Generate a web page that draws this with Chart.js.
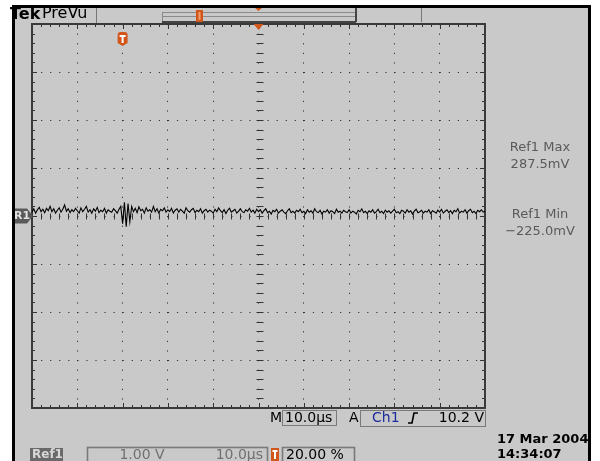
<!DOCTYPE html>
<html>
<head>
<meta charset="utf-8">
<script src="https://cdn.jsdelivr.net/npm/chart.js@4.4.0/dist/chart.umd.min.js"></script>
<style>
html, body { margin: 0; padding: 0; background: #fff; }
#wrap { width: 600px; height: 461px; }
</style>
</head>
<body>
<div id="wrap"><canvas id="scope" width="600" height="461"></canvas></div>
<script>
// Ref1 trace, mV, one sample every 0.4 us across 10 divisions of 10 us
var sampleStep = 0.4;
var ref1 = [
  80, 150, 60, 130, 180, 90, 140, 70, 160, 110, 200, 90, 150, 60, 120, 170, 80, 140, 230, 100, 150, 70, 130, 90, 160,
  110, 60, 170, 90, 140, 200, 80, 130, 60, 150, 100, 180, 70, 120, 90, 160, 60, 130, 100, 80, 150, 110, 60, 140, 200,
  -160, 287.5, -225, 260, -120, 200, 90, 160, 70, 190, 110, 140, 60, 170, 100, 130, 80, 200, 90, 150, 60, 140, 110, 170, 80,
  130, 90, 160, 60, 120, 150, 80, 140, 100, 60, 170, 110, 80, 130, 160, 70, 120, 90, 150, 60, 110, 140, 80, 120, 100,
  60, 140, 90, 170, 110, 70, 130, 50, 120, 160, 80, 110, 140, 60, 100, 150, 90, 70, 130, 100, 160, 80, 120, 60, 140,
  90, 130, 60, 110, 150, 70, 100, 40, 120, 90, 140, 60, 100, 130, 80, 50, 110, 150, 70, 100, 60, 120, 90, 140, 70,
  100, 50, 130, 80, 110, 60, 150, 90, 70, 120, 40, 100, 80, 130, 60, 110, 90, 50, 140, 80, 100, 60, 120, 90, 70,
  130, 60, 100, 80, 40, 120, 90, 150, 70, 100, 50, 110, 80, 130, 60, 90, 140, 70, 100, 50, 120, 80, 110, 60, 100,
  140, 70, 90, 50, 120, 100, 60, 130, 80, 110, 40, 100, 140, 70, 90, 120, 60, 100, 80, 130, 50, 110, 90, 60, 120,
  80, 140, 60, 100, 130, 70, 110, 50, 120, 90, 150, 60, 100, 80, 130, 60, 110, 140, 70, 100, 50, 120, 90, 130, 80, 100
];
var timeRange = [0, 100];      // us, 10 div x 10.0us
var voltRange = [-4000, 4000]; // mV, 8 div x 1.00 V
var triggerTime = 20;          // 20.00 %
var refMax = '287.5mV';
var refMin = '\u2212225.0mV';

var GRAY = '#c9c9c9';
var ORANGE = '#d2561a';
var FONT = '"DejaVu Sans", sans-serif';

var points = [];
for (var i = 0; i < ref1.length; i++) {
  points.push({ x: i * sampleStep, y: ref1[i] });
}

function tBadge(c, x, y, w, h) {
  c.fillStyle = ORANGE;
  c.beginPath();
  c.moveTo(x, y + 3);
  c.quadraticCurveTo(x, y, x + 3, y);
  c.lineTo(x + w - 3, y);
  c.quadraticCurveTo(x + w, y, x + w, y + 3);
  c.lineTo(x + w, y + h - 3);
  c.lineTo(x + w / 2, y + h);
  c.lineTo(x, y + h - 3);
  c.closePath();
  c.fill();
  c.fillStyle = '#fff';
  c.fillRect(x + 2, y + 3, w - 4, 2);
  c.fillRect(x + w / 2 - 1, y + 3, 2, h - 6);
}

function txt(c, s, x, y, color, font, align) {
  c.fillStyle = color;
  c.font = font;
  c.textAlign = align || 'left';
  c.textBaseline = 'middle';
  c.fillText(s, x, y);
}

function bezel(c) {
  c.fillStyle = '#000';
  c.fillRect(12, 5, 3, 456);
  c.fillRect(12, 5, 579, 3);
  c.fillRect(588, 5, 3, 456);
  c.fillStyle = '#fff';
  c.fillRect(591, 0, 9, 461);
}

var scopeFrame = {
  id: 'scopeFrame',
  beforeDraw: function(chart) {
    var c = chart.ctx;
    c.save();
    c.fillStyle = '#fff';
    c.fillRect(0, 0, 600, 461);
    c.fillStyle = GRAY;
    c.fillRect(15, 8, 574, 453);
    // top bar
    c.strokeStyle = '#777';
    c.lineWidth = 1;
    c.beginPath();
    c.moveTo(96.5, 8); c.lineTo(96.5, 23);
    c.moveTo(421.5, 8); c.lineTo(421.5, 22);
    c.stroke();
    c.strokeStyle = '#8a8a8a';
    c.strokeRect(162.5, 12.5, 193, 9);
    c.beginPath();
    c.moveTo(163, 16.5); c.lineTo(355, 16.5);
    c.stroke();
    c.strokeStyle = '#444';
    c.lineWidth = 2;
    c.beginPath();
    c.moveTo(356, 8); c.lineTo(356, 22);
    c.moveTo(162, 22); c.lineTo(356, 22);
    c.stroke();
    c.fillStyle = ORANGE;
    c.fillRect(196, 10, 7, 12);
    c.fillStyle = '#f0a070';
    c.fillRect(198.5, 12, 2, 8);
    c.fillStyle = ORANGE;
    c.beginPath();
    c.moveTo(254, 7); c.lineTo(263, 7); c.lineTo(258.5, 11); c.closePath();
    c.fill();
    bezel(c);
    c.restore();
  },
  beforeDatasetsDraw: function(chart) {
    var c = chart.ctx, a = chart.chartArea, xs = chart.scales.x, ys = chart.scales.y;
    c.save();
    c.strokeStyle = '#333';
    c.lineWidth = 1;
    c.beginPath();
    var cy = Math.round(ys.getPixelForValue(0)) + 0.5;
    var cx = Math.round(xs.getPixelForValue(50)) + 0.5;
    for (var t = timeRange[0]; t <= timeRange[1]; t += 2) {
      var px = Math.round(xs.getPixelForValue(t)) + 0.5;
      var len = t % 10 === 0 ? 5 : 3;
      c.moveTo(px, a.top); c.lineTo(px, a.top + len);
      c.moveTo(px, a.bottom); c.lineTo(px, a.bottom - len);
      c.moveTo(px, cy - 3); c.lineTo(px, cy + 3);
    }
    for (var v = voltRange[0]; v <= voltRange[1]; v += 200) {
      var py = Math.round(ys.getPixelForValue(v)) + 0.5;
      var ln = v % 1000 === 0 ? 5 : 3;
      c.moveTo(a.left, py); c.lineTo(a.left + ln, py);
      c.moveTo(a.right, py); c.lineTo(a.right - ln, py);
      c.moveTo(cx - 3, py); c.lineTo(cx + 4, py);
    }
    c.stroke();
    c.strokeStyle = '#3a3a3a';
    c.lineWidth = 2;
    c.strokeRect(a.left, a.top, a.right - a.left, a.bottom - a.top);
    c.restore();
  },
  afterDraw: function(chart) {
    var c = chart.ctx, a = chart.chartArea, xs = chart.scales.x, ys = chart.scales.y;
    c.save();
    // trigger markers
    var tx = xs.getPixelForValue(triggerTime);
    tBadge(c, tx - 5, 32, 10, 14);
    var cx = xs.getPixelForValue(50);
    c.fillStyle = ORANGE;
    c.beginPath();
    c.moveTo(cx - 5, a.top); c.lineTo(cx + 5, a.top); c.lineTo(cx, a.top + 6); c.closePath();
    c.fill();
    // R1 ground marker
    var gy = ys.getPixelForValue(0);
    c.fillStyle = '#5a5a5a';
    c.beginPath();
    c.moveTo(13, gy - 7.5); c.lineTo(27, gy - 7.5); c.lineTo(33, gy); c.lineTo(27, gy + 7.5); c.lineTo(13, gy + 7.5);
    c.closePath();
    c.fill();
    txt(c, 'R1', 14, gy + 0.5, '#e0e0e0', 'bold 11px ' + FONT);
    // header
    txt(c, 'Tek', 10, 15, '#000', 'bold 16px ' + FONT);
    txt(c, 'PreVu', 42, 14, '#000', '16px ' + FONT);
    // ref readouts
    txt(c, 'Ref1 Max', 540, 148, '#5a5a5a', '13px ' + FONT, 'center');
    txt(c, refMax, 540, 165, '#5a5a5a', '13px ' + FONT, 'center');
    txt(c, 'Ref1 Min', 540, 215, '#5a5a5a', '13px ' + FONT, 'center');
    txt(c, refMin, 540, 232, '#5a5a5a', '13px ' + FONT, 'center');
    // bottom readouts
    c.strokeStyle = '#7a7a7a';
    c.lineWidth = 1;
    c.strokeRect(282.5, 410.5, 54, 15);
    c.strokeRect(360.5, 410.5, 125, 16);
    txt(c, 'M', 270, 418, '#000', '14px ' + FONT);
    txt(c, '10.0\u00b5s', 285, 418, '#000', '14px ' + FONT);
    txt(c, 'A', 349, 418, '#000', '14px ' + FONT);
    txt(c, 'Ch1', 372, 418, '#1c2c9c', '14px ' + FONT);
    c.strokeStyle = '#000';
    c.lineWidth = 1.6;
    c.beginPath();
    c.moveTo(408, 423); c.lineTo(412, 423); c.lineTo(414, 413); c.lineTo(418, 413);
    c.stroke();
    txt(c, '10.2 V', 484, 418, '#000', '14px ' + FONT, 'right');
    txt(c, '17 Mar 2004', 497, 440, '#000', 'bold 13px ' + FONT);
    txt(c, '14:34:07', 497, 455, '#000', 'bold 13px ' + FONT);
    c.fillStyle = '#6a6a6a';
    c.fillRect(30, 448, 33, 13);
    txt(c, 'Ref1', 32, 455, '#d8d8d8', 'bold 12px ' + FONT);
    c.strokeStyle = '#7a7a7a';
    c.strokeRect(87.5, 447.5, 180, 15);
    txt(c, '1.00 V', 142, 455, '#707070', '14px ' + FONT, 'center');
    txt(c, '10.0\u00b5s', 263, 455, '#707070', '14px ' + FONT, 'right');
    c.fillStyle = ORANGE;
    c.fillRect(271, 448, 8, 13);
    c.fillStyle = '#fff';
    c.fillRect(272.5, 450, 5, 2);
    c.fillRect(274, 450, 2, 9);
    c.strokeStyle = '#7a7a7a';
    c.strokeRect(282.5, 447.5, 72, 15);
    txt(c, '20.00 %', 286, 455, '#000', '14px ' + FONT);
    bezel(c);
    c.restore();
  }
};

new Chart(document.getElementById('scope'), {
  type: 'line',
  data: {
    datasets: [{
      label: 'Ref1',
      data: points,
      borderColor: '#000',
      borderWidth: 1.1,
      pointRadius: 0,
      tension: 0,
      fill: false
    }]
  },
  options: {
    responsive: false,
    animation: false,
    layout: { padding: { left: 32, top: 24, right: 115, bottom: 53 } },
    plugins: { legend: { display: false }, tooltip: { enabled: false } },
    scales: {
      x: {
        type: 'linear', min: timeRange[0], max: timeRange[1],
        ticks: { display: false, stepSize: 10 },
        grid: { color: '#333', lineWidth: 1, drawTicks: false },
        border: { display: false, dash: [1.2, 8.4] }
      },
      y: {
        min: voltRange[0], max: voltRange[1],
        ticks: { display: false, stepSize: 1000 },
        grid: { color: '#333', lineWidth: 1, drawTicks: false },
        border: { display: false, dash: [1.2, 7.86] }
      }
    }
  },
  plugins: [scopeFrame]
});
</script>
</body>
</html>
